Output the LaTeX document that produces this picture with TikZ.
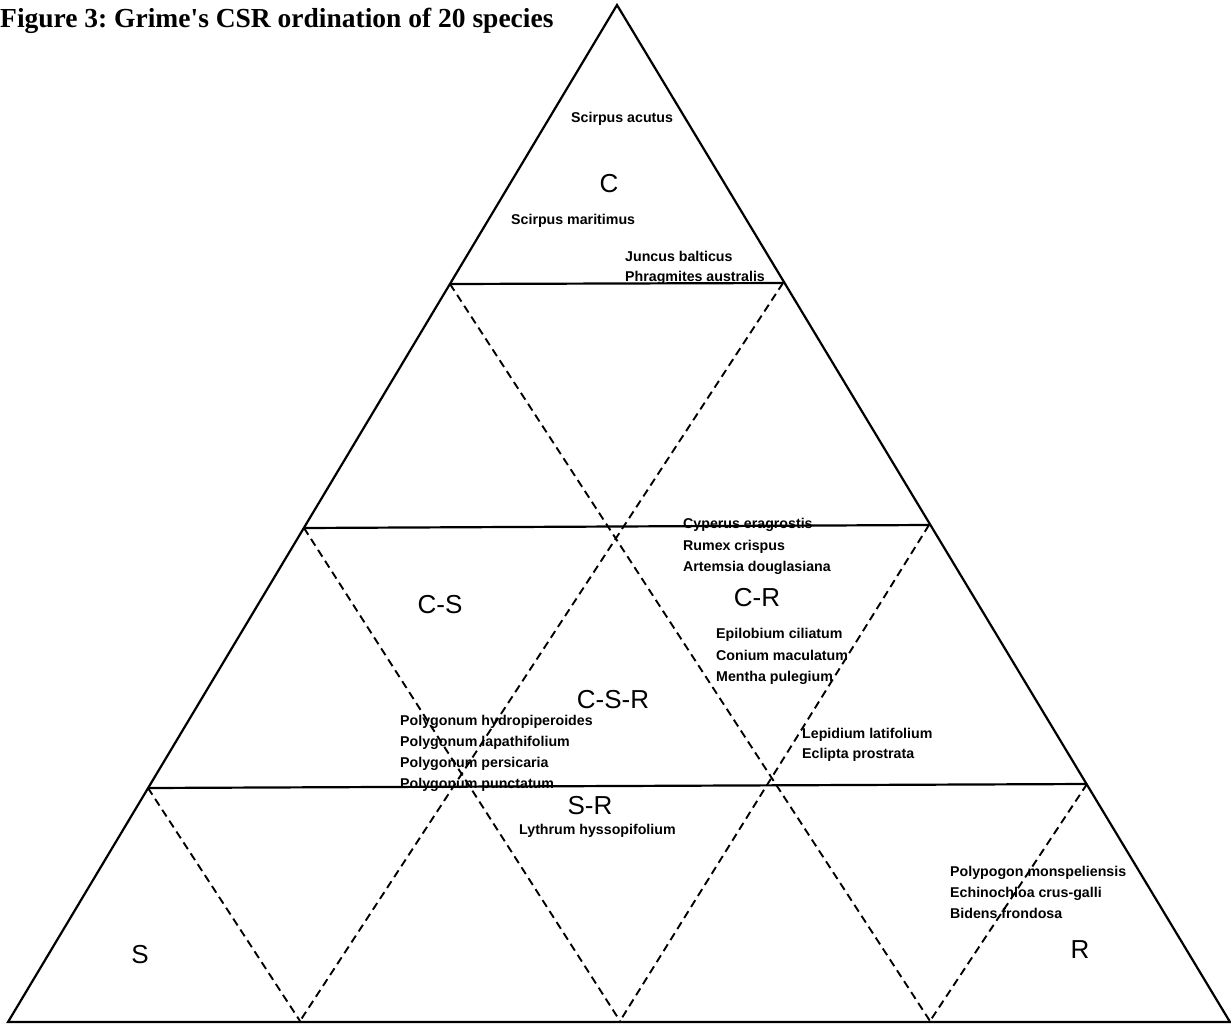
\documentclass[tikz,border=0pt]{standalone}
\usepackage{fontspec}
\setmainfont{Liberation Serif}
\newfontfamily\timesf{Liberation Serif}
\newfontfamily\arialf{Liberation Sans}
\frenchspacing
\begin{document}
\begin{tikzpicture}[x=1pt,y=-1pt,
  frame/.style={line width=2.2pt, line join=miter},
  divline/.style={line width=2.2pt},
  dashline/.style={line width=1.9pt, dash pattern=on 8pt off 5pt},
  species/.style={font=\arialf\bfseries\fontsize{14.2}{16}\selectfont, anchor=base west, inner sep=0pt},
  zone/.style={font=\arialf\fontsize{26}{28}\selectfont, inner sep=0pt},
  title/.style={font=\timesf\bfseries\fontsize{27.5}{30}\selectfont, anchor=base west, inner sep=0pt}]
\useasboundingbox (0,0) rectangle (1231,1027);
% corners and division points
\coordinate (A) at (617,5);
\coordinate (BL) at (8,1022);
\coordinate (BR) at (1230,1022);
\coordinate (T1) at (450,284);
\coordinate (T2) at (783,283);
\coordinate (M1) at (304,528);
\coordinate (M2) at (929,525);
\coordinate (L1) at (148,788);
\coordinate (L2) at (1087,784);
\coordinate (B1) at (300,1021);
\coordinate (B2) at (620,1021);
\coordinate (B3) at (930,1021);
% outline
\draw[frame] (A) -- (BL) -- (BR) -- cycle;
% horizontal dividers
\draw[divline] (T1) -- (T2);
\draw[divline] (M1) -- (M2);
\draw[divline] (L1) -- (L2);
% dashed dividers
\draw[dashline] (T1) -- (B3);
\draw[dashline] (T2) -- (B1);
\draw[dashline] (M1) -- (B2);
\draw[dashline] (M2) -- (B2);
\draw[dashline] (L1) -- (B1);
\draw[dashline] (L2) -- (B3);
% title
\node[title] (title) at (0,28) {Figure 3: Grime's CSR ordination of 20 species};
% zone labels
\node[zone] (zC) at (609,184) {C};
\node[zone] (zCS) at (440,605) {C-S};
\node[zone] (zCR) at (757,598) {C-R};
\node[zone] (zCSR) at (613,700) {C-S-R};
\node[zone] (zSR) at (590,806) {S-R};
\node[zone] (zS) at (140,955) {S};
\node[zone] (zR) at (1080,950) {R};
% species
\node[species] (s1) at (571,123) {Scirpus acutus};
\node[species] (s2) at (511,224) {Scirpus maritimus};
\node[species] (s3) at (625,261) {Juncus balticus};
\node[species] (s4) at (625,281) {Phragmites australis};
\node[species] (s5) at (683,528) {Cyperus eragrostis};
\node[species] (s6) at (683,550) {Rumex crispus};
\node[species] (s7) at (683,571) {Artemsia douglasiana};
\node[species] (s8) at (716,638) {Epilobium ciliatum};
\node[species] (s9) at (716,660) {Conium maculatum};
\node[species] (s10) at (716,681) {Mentha pulegium};
\node[species] (s11) at (400,725) {Polygonum hydropiperoides};
\node[species] (s12) at (400,746) {Polygonum lapathifolium};
\node[species] (s13) at (400,767) {Polygonum persicaria};
\node[species] (s14) at (400,788) {Polygonum punctatum};
\node[species] (s15) at (802,738) {Lepidium latifolium};
\node[species] (s16) at (802,758) {Eclipta prostrata};
\node[species] (s17) at (519,834) {Lythrum hyssopifolium};
\node[species] (s18) at (950,876) {Polypogon monspeliensis};
\node[species] (s19) at (950,897) {Echinochloa crus-galli};
\node[species] (s20) at (950,918) {Bidens frondosa};
\end{tikzpicture}
\end{document}
